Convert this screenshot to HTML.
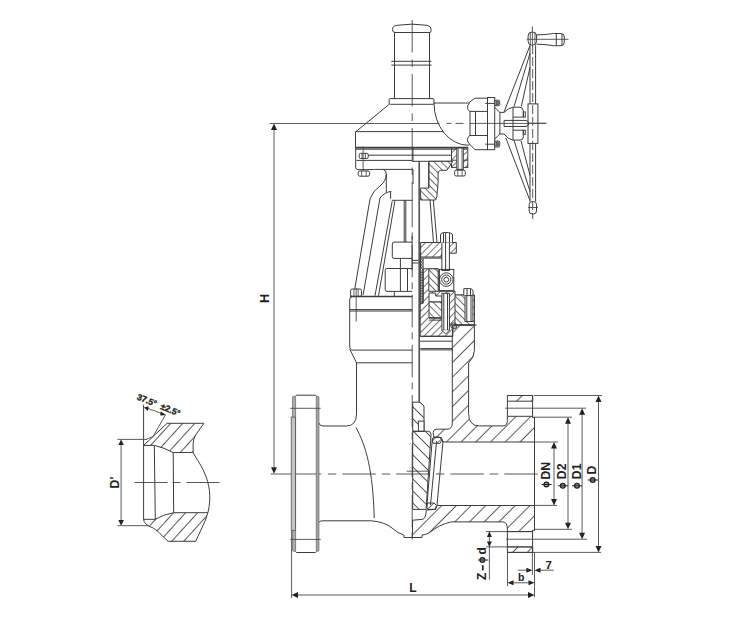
<!DOCTYPE html>
<html><head><meta charset="utf-8"><title>Gate valve</title>
<style>
html,body{margin:0;padding:0;background:#fff;width:734px;height:639px;overflow:hidden}
svg{display:block}
.s{fill:none;stroke:#3c3c3c;stroke-width:1}
.o{stroke:#3c3c3c;stroke-width:1}
.w{fill:none;stroke:#3c3c3c;stroke-width:1.6}
.d{fill:none;stroke:#4a4a4a;stroke-width:0.9}
.c{fill:none;stroke:#444;stroke-width:0.9;stroke-dasharray:32 5 8 5}
.k{fill:#222;stroke:none}
text{font-family:"Liberation Sans",sans-serif;font-weight:bold;fill:#222}
.phi circle{fill:#9a9a9a;stroke:#222;stroke-width:1.3}
.phi line{stroke:#222;stroke-width:1}
</style></head>
<body>
<svg width="734" height="639" viewBox="0 0 734 639">
<defs>
<pattern id="hf" patternUnits="userSpaceOnUse" width="10.4" height="10.4" patternTransform="rotate(45)"><line x1="4.17" y1="-1" x2="4.17" y2="11.4" stroke="#444" stroke-width="0.9"/></pattern>
<pattern id="hs" patternUnits="userSpaceOnUse" width="5" height="5" patternTransform="rotate(45)"><line x1="2.5" y1="-1" x2="2.5" y2="6" stroke="#444" stroke-width="0.75"/></pattern>
<pattern id="hbs" patternUnits="userSpaceOnUse" width="5" height="5" patternTransform="rotate(-45)"><rect x="-1" y="-1" width="7" height="7" fill="#fff"/><line x1="2.5" y1="-1" x2="2.5" y2="6" stroke="#444" stroke-width="0.75"/></pattern>
<pattern id="hb" patternUnits="userSpaceOnUse" width="8.5" height="8.5" patternTransform="rotate(-45)"><line x1="4.25" y1="-1" x2="4.25" y2="9.5" stroke="#444" stroke-width="0.85"/></pattern>
<pattern id="hd" patternUnits="userSpaceOnUse" width="8.9" height="8.9" patternTransform="translate(170.1,423.3) rotate(42.3)"><line x1="0.5" y1="-1" x2="0.5" y2="9.9" stroke="#444" stroke-width="0.9"/></pattern>
<marker id="ar" viewBox="0 0 10 6" refX="10" refY="3" markerWidth="6" markerHeight="5" markerUnits="userSpaceOnUse" orient="auto"><path d="M0,0 L10,3 L0,6 z" fill="#222"/></marker>
</defs>

<!-- ============ DIMENSIONS ============ -->
<g id="dims">
  <!-- H -->
  <line class="d" x1="269.6" y1="123.5" x2="439.5" y2="123.5"/>
  <line class="d" x1="274" y1="130" x2="274" y2="467"/>
  <path class="k" d="M274,123.5 L271,130 L277,130 z"/>
  <path class="k" d="M274,473.8 L271,467.3 L277,467.3 z"/>
  <text font-size="12.8" transform="translate(269.3,298.3) rotate(-90)" text-anchor="middle">H</text>
  <!-- L -->
  <line class="d" x1="291.6" y1="531" x2="291.6" y2="598"/>
  <line class="d" x1="534.5" y1="552" x2="534.5" y2="597"/>
  <line class="d" x1="298" y1="595" x2="528" y2="595"/>
  <path class="k" d="M291.6,595 L298,592 L298,598 z"/>
  <path class="k" d="M534.5,595 L528,592 L528,598 z"/>
  <text x="413" y="592.2" font-size="12" text-anchor="middle">L</text>
  <!-- diameters -->
  <line class="d" x1="534" y1="395.5" x2="602" y2="395.5"/>
  <line class="d" x1="507" y1="552.4" x2="601" y2="552.4"/>
  <line class="d" x1="598.5" y1="402" x2="598.5" y2="546"/>
  <path class="k" d="M598.5,395.5 L595.5,402 L601.5,402 z"/>
  <path class="k" d="M598.5,552.4 L595.5,546 L601.5,546 z"/>
  <line class="d" x1="534" y1="408.2" x2="586" y2="408.2"/>
  <line class="d" x1="506" y1="539.2" x2="587" y2="539.2"/>
  <line class="d" x1="582.1" y1="414" x2="582.1" y2="533"/>
  <path class="k" d="M582.1,408.2 L579.1,414.7 L585.1,414.7 z"/>
  <path class="k" d="M582.1,539.2 L579.1,532.7 L585.1,532.7 z"/>
  <line class="d" x1="534" y1="417.2" x2="572" y2="417.2"/>
  <line class="d" x1="535" y1="529.3" x2="572" y2="529.3"/>
  <line class="d" x1="568" y1="423" x2="568" y2="523"/>
  <path class="k" d="M568,417.2 L565,423.7 L571,423.7 z"/>
  <path class="k" d="M568,529.3 L565,522.8 L571,522.8 z"/>
  <line class="d" x1="534" y1="442" x2="558" y2="442"/>
  <line class="d" x1="534" y1="505.4" x2="557" y2="505.4"/>
  <line class="d" x1="554" y1="448" x2="554" y2="499"/>
  <path class="k" d="M554,442 L551,448.5 L557,448.5 z"/>
  <path class="k" d="M554,505.4 L551,498.9 L557,498.9 z"/>
  <g class="phi"><circle cx="546.4" cy="484.5" r="2.4"/><line x1="541.5" y1="484.5" x2="551.5" y2="484.5"/></g>
  <text font-size="12.3" transform="translate(549.9,479.6) rotate(-90)">DN</text>
  <g class="phi"><circle cx="562.8" cy="485.8" r="2.4"/><line x1="558" y1="485.8" x2="568.3" y2="485.8"/></g>
  <text font-size="12.3" transform="translate(566.3,479.2) rotate(-90)">D2</text>
  <g class="phi"><circle cx="577" cy="485.8" r="2.4"/><line x1="572" y1="485.8" x2="582.3" y2="485.8"/></g>
  <text font-size="12.3" transform="translate(580.8,479.2) rotate(-90)">D1</text>
  <g class="phi"><circle cx="592.7" cy="480" r="2.4"/><line x1="587.7" y1="480" x2="598" y2="480"/></g>
  <text font-size="12.3" transform="translate(595.6,474.4) rotate(-90)">D</text>
  <!-- phi d -->
  <line class="d" x1="486" y1="531.6" x2="532" y2="531.6"/>
  <line class="d" x1="486" y1="546.9" x2="532" y2="546.9"/>
  <line class="d" x1="489.4" y1="531.6" x2="489.4" y2="579.6"/>
  <path class="k" d="M489.4,531.6 L486.9,537 L491.9,537 z"/>
  <path class="k" d="M489.4,546.9 L486.9,541.5 L491.9,541.5 z"/>
  <text font-size="12" transform="translate(486.4,554.4) rotate(-90)">d</text>
  <g class="phi"><circle cx="482.4" cy="560" r="2.4"/><line x1="478" y1="560" x2="488.3" y2="560"/></g>
  <line x1="482.8" y1="565.2" x2="482.8" y2="570.4" stroke="#222" stroke-width="1.7"/>
  <text font-size="12" transform="translate(486.4,580) rotate(-90)">Z</text>
  <!-- b -->
  <line class="d" x1="507.5" y1="552" x2="507.5" y2="586.1"/>
  <line class="d" x1="513" y1="582.8" x2="529" y2="582.8"/>
  <path class="k" d="M507.5,582.8 L513.5,580.3 L513.5,585.3 z"/>
  <path class="k" d="M534.5,582.8 L528.5,580.3 L528.5,585.3 z"/>
  <text x="521.2" y="580.5" font-size="10.5" text-anchor="middle">b</text>
  <!-- 7 -->
  <line class="d" x1="532.4" y1="552" x2="532.4" y2="575"/>
  <line class="d" x1="517.8" y1="570.2" x2="527" y2="570.2"/>
  <path class="k" d="M532.4,570.2 L526.4,567.7 L526.4,572.7 z"/>
  <line class="d" x1="540" y1="570.2" x2="553.7" y2="570.2"/>
  <path class="k" d="M534.5,570.2 L540.5,567.7 L540.5,572.7 z"/>
  <text x="548.8" y="568.8" font-size="11.5" text-anchor="middle">7</text>
</g>

<!-- ============ CENTERLINES ============ -->
<line class="c" x1="412.2" y1="20" x2="412.2" y2="200" style="stroke-dasharray:32.5 7 7.5 7"/>
<line class="c" x1="412.2" y1="200" x2="412.2" y2="541" style="stroke-dasharray:32.5 5 7 5.5;stroke-dashoffset:5.1"/>
<line class="d" x1="270.6" y1="474" x2="321.3" y2="474"/>
<line class="c" x1="327.8" y1="474" x2="545" y2="474" style="stroke-dasharray:8.5 6 33.5 6"/>
<line class="d" x1="406.5" y1="471.2" x2="429.4" y2="471.2"/>
<line class="c" x1="439.5" y1="123.4" x2="470" y2="123.4" style="stroke-dasharray:0 7 5 4 8 5"/>
<line class="d" x1="470" y1="123.4" x2="546.3" y2="123.4"/>

<!-- ============ TOP CAP ============ -->
<g id="cap">
  <path class="s" d="M394.5,32.5 L394.5,98.6 M429.5,32.5 L429.5,98.6"/>
  <path class="s" d="M395,32.5 L430,32.5 Q431.5,32.5 431,29 Q431,26 427,25.3 Q412,23 397,25.3 Q392.5,26 392.5,29.5 Q392.5,32.5 395,32.5 z"/>
  <path class="s" d="M391.3,61.3 L431.6,61.3 M391.3,65.1 L431.6,65.1"/>
  <rect class="s" x="389.2" y="98.6" width="44.8" height="5.7" rx="1"/>
</g>

<!-- ============ GEARBOX ============ -->
<g id="gearbox">
  <path class="s" d="M389.2,104.3 L355.5,132 L355.5,147.6"/>
  <path class="s" d="M355.5,131.6 L443,131.6"/>
  <path class="s" d="M434,103 A34.4,42.3 0 0 0 468.4,145.3"/>
  <path class="s" d="M434,103 L468.5,103"/>
  <line class="w" x1="355.5" y1="147.6" x2="468" y2="147.6"/>
  <!-- side housing -->
  <path class="s" d="M468.5,103 L474.9,98.2 L487.5,98.2 M469.5,103 Q465.5,107.2 469.5,111.4 L487.5,111.4 M470,111.4 L470,135.5 M475.5,111.4 L475.5,135.5 M469.5,135.5 L487.5,135.5 M469.5,135.5 Q465.5,139.8 469.5,144 L474.9,149.7 L487.5,149.7 M468.4,145.3 L469.5,144"/>
  <rect class="s" x="487.5" y="97.5" width="7.2" height="52.2"/>
  <rect class="s" x="494.7" y="100.2" width="5" height="5.5" rx="1.2"/><rect x="496" y="101.2" width="2.6" height="3.6" fill="#777" stroke="#333" stroke-width="0.6"/>
  <rect class="s" x="494.7" y="141" width="5" height="6" rx="1.2"/><rect x="496" y="142" width="2.6" height="4" fill="#777" stroke="#333" stroke-width="0.6"/>
  <path class="s" d="M485.3,103.4 L494.7,103.4 M485.3,144.2 L494.7,144.2"/>
  <!-- neck to handwheel -->
  <path class="s" d="M494.5,107.2 L499.9,112.4 L499.9,134 L494.5,139.1 M499.9,112.4 L504.1,112.4 Q508,108 513,107.2 M499.9,134 L504.1,134 Q508,139.5 513,140.1"/>
  <path class="s" d="M513,107.2 L520,107.2 Q523.3,107.5 523.3,111 L523.3,117.1 L513,117.1 M513,130.2 L523.3,130.2 L523.3,137 Q523.3,140.1 520,140.1 L513,140.1 M513,107.2 L513,140.1"/>
  <rect class="s" x="523.3" y="111.9" width="2" height="5.2"/>
  <rect class="s" x="523.3" y="130.2" width="2" height="4.2"/>
  <path class="s" d="M504.1,120.4 L526,120.4 L528.5,122 L528.5,125 L526,126.5 L504.1,126.5 z"/>
</g>

<!-- ============ HANDWHEEL ============ -->
<g id="wheel">
  <rect class="s" x="528.1" y="32" width="8.5" height="13.2" rx="4"/>
  <path class="s" d="M530.3,32.6 L530.3,44.6 M535,32.6 L535,44.6" style="stroke-width:0.8"/>
  <path class="s" d="M536.6,34.9 Q545,34.9 553.5,33.5 L561,33.5 Q564.3,33.5 564.3,37 L564.3,42.2 Q564.3,45.7 561,45.7 L553.5,45.7 Q545,44.2 536.6,44.2"/>
  <path class="s" d="M556.3,33.5 L556.3,45.7 M562,34 L562,45.2"/>
  <line class="d" x1="526.7" y1="39.3" x2="568.5" y2="39.3"/>
  <line class="d" x1="532.4" y1="26.4" x2="532.4" y2="45"/>
  <path class="s" d="M530,45.2 L530,104 M535.6,45.2 L535.6,104 M530,143.4 L530,201.5 M535.6,143.4 L535.6,201.5"/>
  <path class="c" d="M532.7,45 L532.7,219" style="stroke-dasharray:9 3"/>
  <rect class="s" x="528" y="103.9" width="9.9" height="39.5"/>
  <rect class="s" x="529.2" y="201.5" width="7.3" height="12.5" rx="3"/>
  <line class="d" x1="528" y1="207.5" x2="538" y2="207.5"/>
  <!-- spokes -->
  <path class="s" d="M530,45.5 L504.1,111.9 M530,53.2 L514,106.6 M530,67.3 L521.3,106.5"/>
  <path class="s" d="M505.8,137.8 L530,200.8 M513.9,139.8 L530,191.7 M521,140.8 L530,175.4"/>
  <line class="d" x1="528" y1="123.2" x2="546.3" y2="123.2"/>
</g>

<!-- ============ GEARBOX BOTTOM PLATE ============ -->
<g id="plate">
  <path class="s" d="M355.7,147.6 L355.7,167.5 Q355.7,169.6 358,169.6 L374.5,169.6"/>
  <path class="s" d="M356,149.2 L467,149.2"/>
  <path class="s" d="M368,155.2 L451.4,155.2 M356.5,160.4 L412,160.4 M412,161.3 L451.4,161.3 M413,147.6 L413,161.3"/>
  <rect class="s" x="359.2" y="153.3" width="9" height="5.2" rx="1.3"/><path class="s" d="M362,153.3 L362,158.5 M365.3,153.3 L365.3,158.5" style="stroke-width:0.9"/>
  <line class="d" x1="363.1" y1="146.5" x2="363.1" y2="171"/>
  <g><rect class="s" x="358.2" y="171" width="11.4" height="5.2" rx="1.5"/><path class="s" d="M361.6,171 L361.6,176.2 M366.2,171 L366.2,176.2" style="stroke-width:0.8"/></g>
  <rect x="451.5" y="147.6" width="16.3" height="19.8" fill="url(#hs)" class="o"/>
  <rect x="456.8" y="148" width="6.5" height="21.4" fill="#fff" class="o"/><path class="s" d="M458.2,148 L458.2,169.4 M462,148 L462,169.4" style="stroke-width:0.8"/><line class="s" x1="451.5" y1="160.2" x2="456.8" y2="160.2"/><line class="s" x1="463.3" y1="160.2" x2="467.8" y2="160.2"/>
  <g><rect class="s" x="454.6" y="170.2" width="10.7" height="5.8" rx="1.5"/><path class="s" d="M457.8,170.2 L457.8,176.0 M462.1,170.2 L462.1,176.0" style="stroke-width:0.8"/></g>
</g>

<!-- ============ YOKE ============ -->
<g id="yoke">
  <path class="s" d="M374.5,169.4 L413,169.4 L413,184"/>
  <path class="s" d="M383.1,169.4 Q386.5,170.5 386.3,173.8 Q386,181 381,185 Q372.5,191 370,199 L354.8,288.8"/>
  <path class="s" d="M386.3,173.8 L386.3,192.5"/>
  <path class="s" d="M391.3,191.3 Q384,192.5 380,198 L363.1,295.1"/>
  <path class="s" d="M390.6,191.3 L390.6,198.8"/>
  <path class="s" d="M392.3,200.6 L375,295.7 M395,200.6 L378.5,295.7"/>
  <path class="s" d="M392.3,200.3 L412.5,200.3"/>
  <path class="s" d="M404.2,200.3 L404.2,242.1 M405.8,200.3 L405.8,242.1"/>
  <path d="M419.2,161.3 L419.2,402" stroke="#5a5a5a" stroke-width="1.7" fill="none"/>
  <!-- right yoke section -->
  <path d="M428.8,161.3 L452.7,161.3 L447,170.3 L440.4,170.3 Q438.4,171 438.1,173.1 L438.1,182.5 L436.9,196.3 L435.6,200 L420.6,200 L420.6,188.1 L428.8,188.1 z" fill="url(#hbs)" class="o"/>
  <path class="s" d="M428.8,161.3 L428.8,188.1"/>
  <path class="s" d="M430,200 L433.5,242.5 M433.3,200 L437,242.5"/>
  <!-- gland stem nut (left) -->
  <path class="s" d="M412.1,242.1 L394,242.1 Q392.3,242.1 392.3,244 L392.3,256.5 Q392.3,258.4 394,258.4 L412.1,258.4"/>
  <path class="s" d="M400.4,258.4 L400.4,268.5"/>
  <path class="s" d="M412.1,268.5 L387,268.5 Q385.2,268.5 385.2,270.3 L385.2,289.6 Q385.2,291.4 387,291.4 L412.1,291.4"/>
  <path class="s" d="M400.4,268.5 L400.4,291.4 M407.5,268.5 L407.5,291.4 M394.3,291.4 L394.3,296.5"/>
  <path class="s" d="M412.2,260.4 L418.6,260.4 M412.2,263 L418.6,263"/>
  <line class="s" x1="412.1" y1="236" x2="412.1" y2="270"/>
  <!-- gland flange right -->
  <path class="o" fill="url(#hs)" d="M420.6,242.5 L456.3,242.5 L456.3,253.2 L441.9,253.2 L441.9,257 L420.6,257 z"/>
  <path class="s" d="M420.6,253.2 L420.6,269.4 M420.6,258.1 L442.5,258.1 M442.5,257 L442.5,269.4"/>
  <rect class="o" x="441.9" y="242.5" width="7.5" height="28" fill="#fff"/>
  <path class="o" d="M440.5,242.5 L440.5,235 Q440.5,232.5 445.6,232.5 Q452.5,232.5 452.5,235 L452.5,242.5" fill="#fff"/>
  <path class="s" d="M443.5,242.5 L443.5,232.8 M449.5,242.5 L449.5,232.8 M445.6,232.5 L445.6,270"/>
  <rect class="s" x="439.4" y="269.4" width="14.4" height="21.2"/>
  <circle class="s" cx="446.3" cy="279.6" r="6.8"/>
  <circle class="s" cx="446.3" cy="279.6" r="4.6"/>
  <circle class="s" cx="446.3" cy="279.6" r="2.4"/>
  <!-- packing -->
  <path class="s" d="M420.3,258.5 L420.3,303.2 M423.1,258.5 L423.1,303.2"/>
  <path d="M420.5,259 L423,260.5 L420.5,262 L423,263.5 L420.5,265 L423,266.5 L420.5,268 L423,269.5" fill="none" stroke="#444" stroke-width="0.8"/>
  <path d="M420.4,271.0 L423,271.0 M420.4,272.6 L423,272.6 M420.4,274.2 L423,274.2 M420.4,275.8 L423,275.8 M420.4,277.4 L423,277.4 M420.4,279.0 L423,279.0 M420.4,280.6 L423,280.6 M420.4,282.2 L423,282.2 M420.4,283.8 L423,283.8 M420.4,285.4 L423,285.4 M420.4,287.0 L423,287.0 M420.4,288.6 L423,288.6 M420.4,290.2 L423,290.2 M420.4,291.8 L423,291.8 M420.4,293.4 L423,293.4 M420.4,295.0 L423,295.0 M420.4,296.6 L423,296.6 M420.4,298.2 L423,298.2 M420.4,299.8 L423,299.8 M420.4,301.4 L423,301.4 M420.4,303.0 L423,303.0" fill="none" stroke="#333" stroke-width="0.85"/>
</g>

<!-- ============ BONNET ============ -->
<g id="bonnet">
  <!-- left exterior -->
  <g><rect class="s" x="350.6" y="289" width="10.9" height="7.4" rx="1.5"/><path class="s" d="M353.9,289 L353.9,296.4 M358.2,289 L358.2,296.4" style="stroke-width:0.8"/></g>
  <line class="d" x1="356.2" y1="288" x2="356.2" y2="321.6"/>
  <path class="w" d="M350,296.5 L412.3,296.5"/>
  <path class="s" d="M352.5,296.5 Q349.7,296.5 349.7,299.5 L349.7,346 Q349.7,350.1 353,350.1 L412.3,350.1 M349.7,309.6 L412.3,309.6 M349.7,311 L412.3,311"/>
  <path class="s" d="M349.7,349 L356.5,362.8 L412.3,362.8"/>
  <!-- right section -->
  <path d="M423.1,268.8 L438.2,268.8 L438.2,291.3 L455,291.3 L455,295 L474.4,295 L474.4,325 L452.8,325 L452.8,336.4 L420.2,336.4 L420.2,303.2 L423.1,303.2 z" fill="url(#hs)" class="o"/>
  <path d="M428.8,268.8 L438.2,268.8 L438.2,291.3 L428.8,291.3 z" fill="url(#hbs)" class="o"/>
  <path d="M429,293 L435.7,293 L435.7,296 L441.9,296 L441.9,302 L429,302 z" fill="#fff" class="o"/>
  <path d="M429,302 L441.9,302 L441.9,317.6 L429,317.6 z" fill="url(#hbs)" class="o"/>
  <path d="M455,295 L474.4,295 L474.4,325 L455,325 z" fill="url(#hbs)" class="o"/>
  <path class="s" d="M429,318.2 L441.9,318.2 M429,320.1 L441.9,320.1"/>
  <rect class="o" x="441.9" y="293.3" width="7.5" height="37" fill="#fff"/>
  <path class="o" d="M441.9,330.3 L445.6,334 L449.4,330.3" fill="#fff"/>
  <path class="s" d="M443.8,293.3 L443.8,330 M447.5,293.3 L447.5,330"/>
  <path class="o" d="M463.8,295.6 L463.8,288.6 Q463.8,288.6 468.9,288.6 Q473,288.6 473,291 L473,295.6" fill="#fff"/>
  <rect class="o" x="465" y="295.6" width="7.9" height="25.9" fill="#fff"/>
  <path class="s" d="M466.8,295.6 L466.8,321.5 M471,295.6 L471,321.5 M467,288.8 L467,295.6 M470.5,288.8 L470.5,295.6"/>
  <line class="s" x1="449" y1="325" x2="476.8" y2="325"/>
  <circle cx="453.8" cy="325.8" r="3" fill="url(#hs)" class="o"/>
</g>

<!-- ============ BODY ============ -->
<g id="body">
  <!-- left exterior -->
  <path class="s" d="M318.7,422.6 Q319.5,426 323,426 L346.2,426 Q356.5,426 356.5,414 L356.5,362.8"/>
  <path class="s" d="M318.7,522.5 Q319.5,520.8 323,520.8 L371.3,520.8 Q385,522 392,528 Q398,533.5 404,535 L404,537.5 L412.3,537.5"/>
  <path class="s" d="M356,427.5 C366,446 373,470 374.2,518"/>
  <!-- right section main body -->
  <path class="o" fill="url(#hf)" d="M452.8,325 L474.4,325 L474.4,350.4 Q474.4,357 468.6,363 L468.6,413.6 Q468.6,425.9 479.5,425.9 L503,425.9 Q507.4,425.9 507.4,420.4 L507.4,416.3 L532.6,416.3 L532.6,417.5 L534.5,417.5 L534.5,442 L443,442 L441.5,437.5 L434,437.5 L433.1,432.5 Q433.5,429.2 436.5,429.2 L447.1,429.2 Q452.3,429.2 452.3,423 L452.3,336.4 z"/>
  <path class="o" fill="url(#hf)" d="M507.4,395.5 L532.6,395.5 L532.6,401.2 L507.4,401.2 z"/>
  <path class="s" d="M507.4,401.2 L507.4,416.3"/><line class="d" x1="505.2" y1="408.2" x2="534" y2="408.2"/>
  <path class="o" fill="url(#hf)" d="M412.3,537.5 L422,537.5 L422,535 Q426,534.5 428.5,533.3 Q440,524 451.4,521.9 L503,521.9 Q507.4,521.9 507.4,529.6 L507.4,531.6 L532.6,531.6 L532.6,530.3 L534.5,530.3 L534.5,505.5 L437,505.5 L435.6,509.4 L426.3,510 Q426,519.4 421.9,519.4 L412.7,520.2 z"/>
  <path class="o" fill="url(#hf)" d="M507.4,546.9 L532.6,546.9 L532.6,552.4 L507.4,552.4 z"/>
  <path class="s" d="M507.4,531.6 L507.4,546.9"/>
  <!-- raised face right -->
  <path class="s" d="M532.6,395.5 L532.6,417.5 M532.6,530.3 L532.6,552.4 M534.5,417.5 L534.5,530.3"/>
  <!-- disc/wedge -->
  <path class="o" fill="url(#hb)" d="M412.7,402.2 L420,402.2 L424,406 L424,431.3 L412.7,431.3 z"/>
  <rect class="o" fill="#fff" x="418.4" y="421.1" width="5.6" height="10.2"/>
  <path class="o" fill="url(#hb)" d="M412.7,431.3 L428.5,431.3 Q431,431.5 431,434.5 L426.1,509.4 L412.7,509.4 z"/>
  <!-- seat rings -->
  <path class="s" d="M432.4,438 L426.8,507 M443,441 L437,505 M436.6,441 L430.5,505"/>
  <path class="o" fill="url(#hs)" d="M434,437 L439.5,437 L442,440 L440,443.3 L433,443.3 L432.4,440 z"/>
  <path class="o" fill="url(#hs)" d="M427.5,503 L434,503 L436.5,505.5 L435.2,509.4 L428,509.4 L426.6,507 z"/>
  <!-- bonnet bottom lines -->
  <path class="s" d="M420.2,336.2 L452.8,336.2 M420.2,341.2 L452.8,341.2 M420.2,348.6 L452.8,348.6 M420.2,349.9 L452.8,349.9"/>
</g>

<!-- ============ FLANGES ============ -->
<g id="flanges">
  <path class="s" d="M295.5,396.5 L296.5,395.2 L315.5,395.2 L316.5,396.5 M295.5,551.3 L296.5,552.5 L315.5,552.5 L316.5,551.3"/>
  <rect x="292.6" y="396.3" width="3" height="155" rx="1" fill="#b0b0b0" stroke="#5a5a5a" stroke-width="0.7"/>
  <rect x="316.3" y="396.3" width="2.6" height="155" rx="1" fill="#a8a8a8" stroke="#5a5a5a" stroke-width="0.7"/>
  <rect x="291.2" y="417.1" width="4.2" height="113.2" fill="#c4c4c4" stroke="#555" stroke-width="0.8"/>
  <line class="d" x1="290.2" y1="408.3" x2="320.7" y2="408.3"/>
  <line class="d" x1="290.2" y1="539.4" x2="320.7" y2="539.4"/>
</g>

<!-- ============ WELD END DETAIL ============ -->
<g id="detail">
  <path class="o" fill="url(#hd)" d="M167.1,423.3 L203.9,423.3 L195.7,434.9 Q193.1,439 193.1,444 L193.1,452.4 L173.2,452.6 Q164,447.5 154.3,445.4 L143.6,445.4 z"/>
  <path class="o" fill="url(#hd)" d="M143.6,519.3 Q144,522 145.1,522.9 Q147,525.5 149.7,526.5 Q153,527.5 155.3,529.5 Q158,531 159.9,533.6 L168.1,541.3 L195.7,541.3 L205.4,520.3 L207.9,512.7 L173.7,512.7 Q163,514.5 155.3,519.3 z"/>
  <path class="s" d="M193.1,452.4 C196,460 216,480 207.9,512.7"/>
  <path class="s" d="M143.6,404.7 L143.6,519.3 M154.3,445.4 L155.3,519.3 M173.2,452.6 L173.7,512.7"/>
  <path class="d" d="M165.5,414.8 L153.5,435.7 Q151.8,437.5 149.5,437.8 L146,439.4"/>
  <line class="c" x1="134.5" y1="482.5" x2="220.4" y2="482.5" style="stroke-dasharray:33 5 8 6"/>
  <!-- D' -->
  <line class="d" x1="117.5" y1="439.4" x2="147" y2="439.4"/>
  <line class="d" x1="117.5" y1="525.7" x2="148.8" y2="525.7"/>
  <line class="d" x1="121.1" y1="444" x2="121.1" y2="521"/>
  <path class="k" d="M121.1,439.4 L118.3,445 L123.9,445 z"/>
  <path class="k" d="M121.1,525.7 L118.3,520.1 L123.9,520.1 z"/>
  <text font-size="12.3" transform="translate(119.2,482.5) rotate(-90)" text-anchor="middle">D'</text>
  <!-- angle -->
  <path class="d" d="M147.5,408.3 Q154,410.5 161,413.3"/>
  <path class="k" d="M143.9,407.5 L148.6,406.2 L148,410.9 z"/>
  <path class="k" d="M166.2,415 L160.6,411.6 L160.3,415.6 z"/>
  <text font-size="8.8" transform="translate(136.2,399.2) rotate(22)" style="stroke:#222;stroke-width:0.35">37.5°</text>
  <text font-size="8.8" transform="translate(159.8,408.8) rotate(22)" style="stroke:#222;stroke-width:0.35">±2.5°</text>
</g>

</svg>
</body></html>
